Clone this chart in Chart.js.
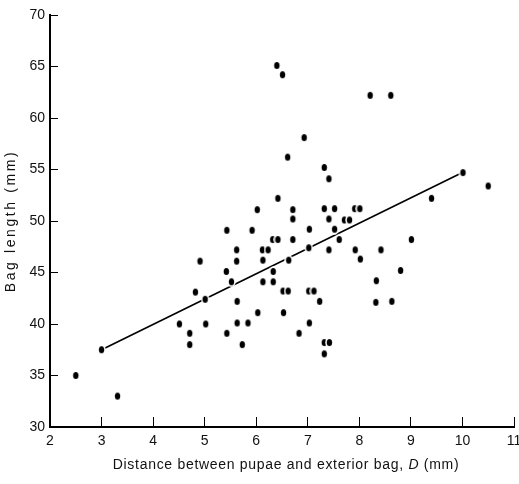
<!DOCTYPE html>
<html>
<head>
<meta charset="utf-8">
<script src="https://cdn.jsdelivr.net/npm/chart.js@4/dist/chart.umd.min.js"></script>
<style>
  html, body { margin: 0; padding: 0; background: #fff; }
  #wrap { width: 519px; height: 484px; }
</style>
</head>
<body>
<div id="wrap"><canvas id="c" width="519" height="484"></canvas></div>
<script>
// Distance between pupae and exterior bag, D (mm)
const distance = [
  6.40, 6.51, 8.21, 8.61, 6.93, 6.61, 7.32, 7.41, 10.01, 10.50,
  9.40, 6.42, 6.02, 6.71, 7.32, 7.52, 7.91, 8.01, 6.71, 7.41,
  7.71, 7.81, 5.43, 5.92, 7.03, 7.52, 6.32, 6.42, 6.71, 7.61,
  9.01, 5.62, 6.12, 6.23, 7.02, 7.41, 7.92, 8.42, 4.91, 5.62,
  6.13, 6.63, 8.02, 5.42, 6.33, 8.80, 5.52, 6.13, 6.33, 8.33,
  4.82, 5.01, 6.52, 6.62, 7.02, 7.12, 7.23, 5.63, 8.32, 8.63,
  6.03, 6.53, 4.51, 5.02, 5.63, 5.84, 7.03, 4.71, 5.43, 6.83,
  4.71, 5.73, 7.32, 7.42, 7.32, 2.50, 3.00, 3.31
];
// Bag length (mm)
const bagLength = [
  65.1, 64.2, 62.2, 62.2, 58.1, 56.2, 55.2, 54.1, 54.7, 53.4,
  52.2, 52.2, 51.1, 51.1, 51.2, 51.2, 51.2, 51.2, 50.2, 50.2,
  50.1, 50.1, 49.1, 49.1, 49.2, 49.2, 48.2, 48.2, 48.2, 48.2,
  48.2, 47.2, 47.2, 47.2, 47.4, 47.2, 47.2, 47.2, 46.1, 46.1,
  46.2, 46.2, 46.3, 45.1, 45.1, 45.2, 44.1, 44.1, 44.1, 44.2,
  43.1, 42.4, 43.2, 43.2, 43.2, 43.2, 42.2, 42.2, 42.1, 42.2,
  41.1, 41.1, 40.0, 40.0, 40.1, 40.1, 40.1, 39.1, 39.1, 39.1,
  38.0, 38.0, 38.2, 38.2, 37.1, 35.0, 37.5, 33.0
];
// Regression line end points
const fitX = [3.0, 10.0];
const fitY = [37.5, 54.7];

// Axis tick settings
const xMin = 2, xMax = 11, xStep = 1;
const yMin = 30, yMax = 70, yStep = 5;

const xTitle = ['Distance between pupae and exterior bag, ', 'D', ' (mm)'];
const yTitle = 'Bag length (mm)';

// Elliptical dot with a thin white halo
function makeDot() {
  const cv = document.createElement('canvas');
  cv.width = 9; cv.height = 11;
  const g = cv.getContext('2d');
  g.fillStyle = '#fff';
  g.beginPath(); g.ellipse(4.5, 5.5, 4.2, 5.2, 0, 0, Math.PI * 2); g.fill();
  g.fillStyle = '#000';
  g.beginPath(); g.ellipse(4.5, 5.5, 2.7, 3.6, 0, 0, Math.PI * 2); g.fill();
  return cv;
}
const dot = makeDot();

const points = distance.map((d, i) => ({ x: d, y: bagLength[i] }));
const fitPts = fitX.map((d, i) => ({ x: d, y: fitY[i] }));

const FONT = '"Liberation Sans", Arial, sans-serif';

const titlePlugin = {
  id: 'axisTitles',
  afterDraw(chart) {
    const { ctx, chartArea } = chart;
    ctx.save();
    ctx.fillStyle = '#111';
    // y title
    ctx.font = '14px ' + FONT;
    ctx.letterSpacing = '2.6px';
    ctx.textAlign = 'center';
    ctx.textBaseline = 'middle';
    ctx.translate(11, (chartArea.top + chartArea.bottom) / 2);
    ctx.rotate(-Math.PI / 2);
    ctx.fillText(yTitle, 0, 0);
    ctx.restore();

    // x title with italic D
    ctx.save();
    ctx.fillStyle = '#111';
    ctx.textBaseline = 'middle';
    ctx.textAlign = 'left';
    ctx.letterSpacing = '0.7px';
    const fonts = ['14px ' + FONT, 'italic 14px ' + FONT, '14px ' + FONT];
    let total = 0;
    const widths = xTitle.map((t, i) => { ctx.font = fonts[i]; const w = ctx.measureText(t).width; total += w; return w; });
    let x = (chartArea.left + chartArea.right) / 2 + 4 - total / 2;
    const y = chartArea.bottom + 38;
    xTitle.forEach((t, i) => { ctx.font = fonts[i]; ctx.fillText(t, x, y); x += widths[i]; });
    ctx.restore();
  }
};

new Chart(document.getElementById('c'), {
  type: 'scatter',
  data: {
    datasets: [
      {
        label: 'Bag length',
        data: points,
        pointStyle: dot,
        pointRadius: 4,
        pointHoverRadius: 4,
        order: 0
      },
      {
        type: 'line',
        label: 'Fit',
        data: fitPts,
        showLine: true,
        borderColor: '#000',
        borderWidth: 1.6,
        pointRadius: 0,
        fill: false,
        order: 1
      }
    ]
  },
  options: {
    responsive: false,
    animation: false,
    events: [],
    layout: { padding: { left: 0, right: 3, top: 15, bottom: 0 } },
    plugins: { legend: { display: false }, tooltip: { enabled: false }, title: { display: false } },
    scales: {
      x: {
        type: 'linear',
        min: xMin, max: xMax,
        afterFit(s) { s.height = 57; s.paddingRight = 0; s.paddingLeft = 0; },
        ticks: { stepSize: xStep, padding: 16, color: '#111', font: { family: FONT, size: 14 }, maxRotation: 0 },
        grid: { display: true, drawOnChartArea: false, drawTicks: true, tickLength: -10, color: '#000', lineWidth: 1 },
        border: { display: true, color: '#000', width: 2 }
      },
      y: {
        type: 'linear',
        min: yMin, max: yMax,
        afterFit(s) { s.width = 50; s.paddingTop = 0; s.paddingBottom = 0; },
        ticks: { stepSize: yStep, padding: 13, color: '#111', font: { family: FONT, size: 14 } },
        grid: { display: true, drawOnChartArea: false, drawTicks: true, tickLength: -8, color: '#000', lineWidth: 1 },
        border: { display: true, color: '#000', width: 2 }
      }
    }
  },
  plugins: [titlePlugin]
});
</script>
</body>
</html>
